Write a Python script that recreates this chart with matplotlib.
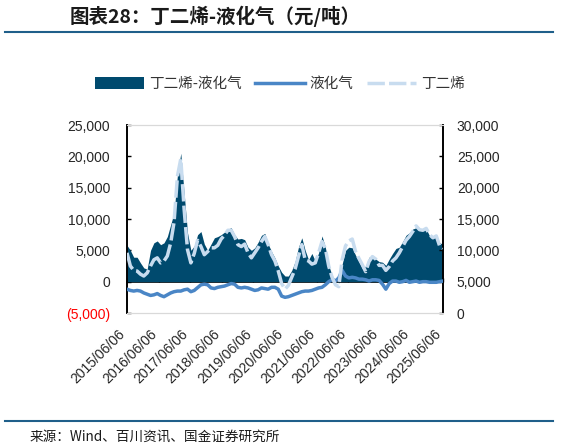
import matplotlib
matplotlib.use("Agg")
import matplotlib.pyplot as plt
import matplotlib.dates as mdates
import matplotlib.ticker as mticker
from matplotlib.patches import Patch
from matplotlib.lines import Line2D
from matplotlib.transforms import ScaledTranslation
import pandas as pd

# ---------------- data ----------------
start_date = "2015-06-06"
end_date = "2025-06-06"
n_points = 95

# 丁二烯-液化气 spread (left axis, 元/吨)
spread = [5800, 5000, 3900, 3900, 3000, 2200, 2000, 5000, 6200, 6500,
          5900, 6200, 7200, 9100, 11000, 17000, 20500, 14100, 7800, 5000,
          5700, 7500, 8000, 6000, 5000, 6000, 7000, 7200, 7500, 7900,
          8400, 8600, 7500, 6800, 6900, 6700, 5500, 5000, 5400, 6300,
          7400, 7700, 6000, 4800, 3800, 2500, 1500, 900, 900, 1800,
          3200, 5500, 7000, 5000, 3500, 4500, 3300, 4600, 7300, 5500,
          2600, 1000, 200, -200, 2800, 5000, 5500, 5400, 4200, 3200,
          2100, 2500, 3900, 4100, 3600, 3200, 3100, 2600, 3600, 4500,
          5300, 5500, 6400, 7400, 7800, 8400, 8600, 8500, 8300, 8400,
          7300, 7200, 7100, 6200, 6000]

# 丁二烯 price (right axis, 元/吨)
butadiene = [9600, 7500, 6800, 6700, 6200, 5900, 6400, 7500, 8500, 8800,
             8000, 8300, 9100, 11200, 14500, 21800, 24600, 16500, 10100, 8000,
             9500, 11600, 10600, 9300, 9800, 10400, 10400, 10800, 11800, 12400,
             13200, 13200, 12200, 10900, 10600, 11000, 9600, 8800, 9600, 10400,
             11400, 12200, 10900, 9300, 8300, 6700, 4700, 3800, 4400, 5700,
             7000, 9000, 10900, 8500, 8300, 7800, 8000, 9600, 11400, 10300,
             7500, 5700, 4500, 4200, 8500, 10700, 11500, 11800, 9800, 8700,
             7700, 6600, 8200, 9000, 8600, 7600, 7600, 6800, 7400, 8300,
             8800, 9600, 10600, 11600, 12200, 13000, 13900, 13300, 13200, 13500,
             12500, 12000, 12300, 10700, 10300]

# 液化气 price (right axis, 元/吨)
lpg = [3800, 3600, 3500, 3600, 3500, 3200, 3000, 2800, 2900, 3100,
       2800, 2600, 2900, 3200, 3400, 3500, 3500, 3700, 3800, 3400,
       3600, 4050, 4500, 4600, 4500, 4000, 3900, 4100, 4200, 4300,
       4500, 4700, 4600, 4100, 4000, 4100, 4000, 3800, 3600, 3700,
       4000, 3900, 3800, 4100, 4100, 3800, 2700, 2500, 2600, 2800,
       3000, 3200, 3400, 3500, 3500, 3600, 3800, 4000, 4100, 4500,
       5000, 5300, 5100, 5600, 6800, 5900, 5600, 5700, 5600, 5400,
       5400, 5300, 5100, 5300, 5300, 5200, 4600, 3800, 4700, 5100,
       5100, 4900, 5000, 5200, 4900, 5000, 5100, 4900, 5000, 5000,
       4900, 4900, 4900, 5000, 5100]

year_ticks = ["2015-06-06", "2016-06-06", "2017-06-06", "2018-06-06",
              "2019-06-06", "2020-06-06", "2021-06-06", "2022-06-06",
              "2023-06-06", "2024-06-06", "2025-06-06"]

left_ticks = [-5000, 0, 5000, 10000, 15000, 20000, 25000]
right_ticks = [0, 5000, 10000, 15000, 20000, 25000, 30000]

label_spread = "丁二烯-液化气"
label_lpg = "液化气"
label_bd = "丁二烯"
title_text = "图表28：丁二烯-液化气（元/吨）"
source_text = "来源：Wind、百川资讯、国金证券研究所"

# ---------------- style ----------------
C_AREA = "#004A6E"
C_LPG = "#4A86C6"
C_BD = "#C8DCEF"
C_RULE = "#1F5F8A"
CJK = ["Noto Sans CJK SC", "DejaVu Sans"]
LAT = ["Liberation Sans", "DejaVu Sans"]

dates = pd.date_range(start_date, end_date, periods=n_points)
tick_dates = pd.to_datetime(year_ticks)

fig = plt.figure(figsize=(5.63, 4.48), dpi=100)
ax = fig.add_axes([127 / 563, 1 - 313 / 448, (443 - 127) / 563, (313 - 125) / 448])
ax2 = ax.twinx()

ax.fill_between(dates, 0, spread, color=C_AREA, linewidth=0, zorder=2)
ax2.plot(dates, lpg, color=C_LPG, linewidth=2.5, solid_capstyle="round", zorder=3)
ax2.plot(dates, butadiene, color=C_BD, linewidth=2.5, linestyle=(0, (5, 1.2)), zorder=4)

ax.set_xlim(pd.Timestamp(start_date), pd.Timestamp(end_date))
ax.set_ylim(-5000, 25000)
ax2.set_ylim(0, 30000)

ax.set_yticks(left_ticks)
ax2.set_yticks(right_ticks)

def left_fmt(v, pos):
    if v < 0:
        return "({:,.0f})".format(-v)
    return "{:,.0f}".format(v)

ax.yaxis.set_major_formatter(mticker.FuncFormatter(left_fmt))
ax2.yaxis.set_major_formatter(mticker.FuncFormatter(lambda v, p: "{:,.0f}".format(v)))

ax.set_xticks(tick_dates)
ax.xaxis.set_major_formatter(mdates.DateFormatter("%Y/%m/%d"))
ax.tick_params(axis="x", length=0, pad=4, labelsize=10, colors="#262626")
label_shift = ScaledTranslation(-0.09, -0.08, fig.dpi_scale_trans)
for lab in ax.get_xticklabels():
    lab.set_rotation(45)
    lab.set_ha("right")
    lab.set_va("top")
    lab.set_rotation_mode("anchor")
    lab.set_fontfamily(LAT)
    lab.set_transform(lab.get_transform() + label_shift)

ax.tick_params(axis="y", direction="in", length=3, width=1, pad=12, labelsize=10,
               colors="black", labelcolor="#262626")
ax2.tick_params(axis="y", direction="in", length=3, width=1, pad=10, labelsize=10,
                colors="black", labelcolor="#262626")
for lab in ax.get_yticklabels() + ax2.get_yticklabels():
    lab.set_fontfamily(LAT)
for lab, v in zip(ax.get_yticklabels(), left_ticks):
    if v < 0:
        lab.set_color("#FF0000")

for a in (ax, ax2):
    a.spines["top"].set_color("#D9D9D9")
    a.spines["bottom"].set_color("#D9D9D9")
    a.spines["left"].set_color("black")
    a.spines["right"].set_color("black")
    a.spines["left"].set_linewidth(1.2)
    a.spines["right"].set_linewidth(1.2)

# zero line with year ticks
sec = ax.secondary_xaxis(1 / 6)
sec.set_xticks(tick_dates)
sec.tick_params(axis="x", direction="in", length=3, width=1, colors="black", labelbottom=False)
sec.spines["bottom"].set_color("black")
sec.spines["bottom"].set_linewidth(1.2)

# legend
handles = [Patch(facecolor=C_AREA, edgecolor="none"),
           Line2D([], [], color=C_LPG, linewidth=2.5),
           Line2D([], [], color=C_BD, linewidth=2.5, linestyle=(0, (5, 1.2)))]
leg = fig.legend(handles, [label_spread, label_lpg, label_bd], loc="center",
                 bbox_to_anchor=(280 / 563, 1 - 84 / 448), ncol=3, frameon=False,
                 prop={"family": CJK, "size": 10.5}, handlelength=3.4,
                 handleheight=0.8, handletextpad=0.35, columnspacing=0.9)
for t in leg.get_texts():
    t.set_color("#333333")

# title and rules
fig.text(70 / 563, 1 - 16 / 448, title_text, family=CJK, fontsize=14, fontweight="bold",
         fontstyle="italic", color="#1A1A1A", va="center", ha="left")
fig.add_artist(Line2D([5 / 563, 553 / 563], [1 - 32 / 448, 1 - 32 / 448],
                      color=C_RULE, linewidth=1.5, transform=fig.transFigure))
fig.add_artist(Line2D([5 / 563, 553 / 563], [1 - 421 / 448, 1 - 421 / 448],
                      color=C_RULE, linewidth=1.5, transform=fig.transFigure))
fig.text(30 / 563, 1 - 437 / 448, source_text, family=CJK, fontsize=9.8,
         color="#1A1A1A", va="center", ha="left")

fig.savefig("out.png", dpi=100)
